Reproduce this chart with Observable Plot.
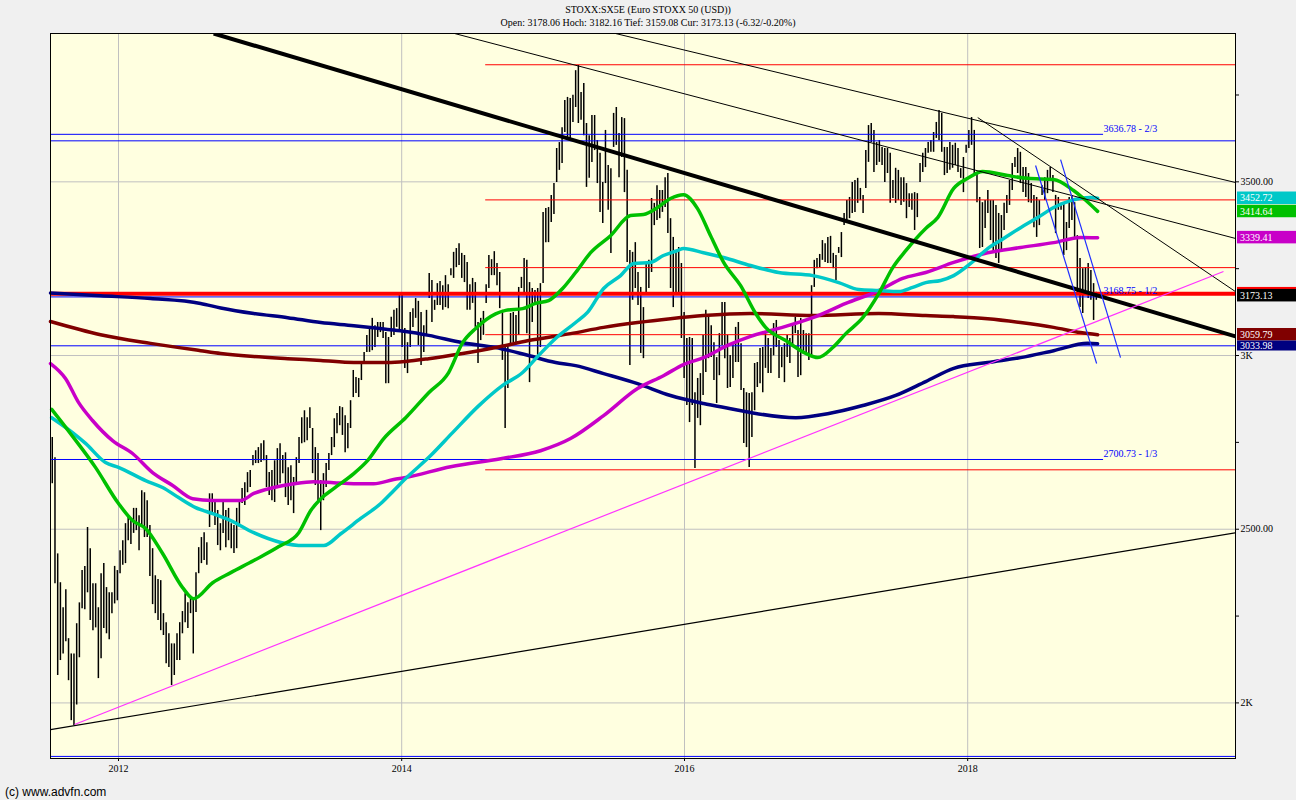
<!DOCTYPE html>
<html><head><meta charset="utf-8">
<script src="https://cdn.jsdelivr.net/npm/d3@7"></script>
<script src="https://cdn.jsdelivr.net/npm/@observablehq/plot@0.6"></script>
<style>
body{margin:0;background:#f0f0f0;width:1296px;height:800px;overflow:hidden;position:relative;font-family:"Liberation Serif","Times New Roman",serif;}
#hdr{position:absolute;left:0;top:0;width:1296px;text-align:center;font-size:10px;line-height:13px;color:#000;padding-top:3px}
#chart{position:absolute;left:0;top:32px}
#ftr{position:absolute;left:5px;top:785px;font-family:"Liberation Sans",Arial,sans-serif;font-size:12px;color:#000}
</style></head><body>
<div id="hdr"><div>STOXX:SX5E (Euro STOXX 50 (USD))</div><div>Open: 3178.06 Hoch: 3182.16 Tief: 3159.08 Cur: 3173.13 (-6.32/-0.20%)</div></div>
<div id="chart"></div>
<div id="ftr">(c) www.advfn.com</div>
<script>
// ---- weekly bars (from mid-July 2011), high / low ----
const weekHigh = [
2764,2706,2429,2346,2274,2326,2185,2141,2141,2228,2288,2381,2393,2505,2444,2343,2343,2274,2372,2401,2332,2317,2317,2393,2381,2438,2467,2516,2539,2528,2560,2560,2539,2611,2605,2582,2511,2444,2366,2355,2352,2257,2231,2199,2170,2170,2199,2231,2263,2314,2288,2303,2303,2375,2447,2476,2490,2461,2602,2602,2582,2554,
2516,2582,2554,2560,2516,2511,2560,2582,2617,2634,2663,2669,2712,2726,2735,2746,2755,2712,2663,2669,2697,2732,2746,2712,2720,2677,2683,2649,2706,2764,2821,2841,2821,2850,2790,2735,2718,2640,2660,2689,2718,2764,2818,2833,2853,2850,2827,2804,2870,2957,2937,2934,2977,3009,3058,3081,3107,3086,3095,3095,3095,3066,3052,3110,3130,3135,3173,
3178,3078,3037,3124,3135,3164,3156,3124,3086,3130,3236,3216,3159,3207,3213,3201,3230,3204,3250,3297,3308,3322,3294,3288,3268,3204,3222,3210,3095,3107,3127,3204,3288,3276,3299,3265,3239,3130,3029,3029,3121,3124,3115,3196,3225,3279,3274,3210,3193,3187,3193,3207,3412,3423,3426,3461,3495,3596,3613,3656,3734,3743,
3740,3749,3820,3835,3757,3783,3668,3633,3691,3691,3619,3582,3498,3648,3547,3538,3697,3714,3639,3685,3682,3533,3302,3297,3325,3239,3196,3138,3268,3274,3452,3438,3489,3475,3475,3512,3524,3394,3340,3297,3311,3265,3124,3049,3052,3049,2893,2934,2948,3058,3130,3115,3086,3037,2994,3063,3153,3153,3058,3000,3037,3081,3095,
3034,2905,2893,2891,2893,2977,2980,3020,3023,3063,3049,3020,3092,3101,3043,3023,3034,3058,3049,3092,3110,3072,3107,3072,3063,3063,3201,3274,3279,3291,3331,3322,3340,3343,3294,3288,3311,3354,3409,3446,3455,3498,3504,3510,3481,3461,3590,3662,3668,3648,3613,3619,3599,3596,3596,3582,3504,3539,3533,3512,3512,3495,3466,3466,3469,3466,
3553,3582,3596,3613,3619,3642,3671,3705,3697,3599,3599,3613,3605,3611,3596,3538,3570,3605,3648,3685,3648,3527,3455,3440,3446,3475,3446,3446,3432,3409,3403,3438,3461,3504,3553,3570,3596,3585,3541,3541,3524,3495,3461,3455,3446,3489,3512,3533,3541,3518,3461,3455,3438,3438,3383,3455,3461,3440,3345,3279,3250,3253,3265,3245,3207,3182];
const weekLow = [
2631,2343,2079,2122,2141,2176,2064,1949,1935,1994,2130,2271,2268,2317,2237,2208,2216,2070,2127,2214,2199,2182,2257,2285,2294,2372,2396,2401,2467,2456,2488,2496,2438,2508,2476,2476,2364,2283,2257,2237,2208,2194,2113,2102,2050,2079,2122,2122,2199,2231,2214,2257,2141,2260,2372,2401,2410,2396,2505,2545,2511,2453,
2438,2488,2447,2467,2444,2430,2444,2505,2574,2568,2605,2620,2683,2689,2689,2692,2697,2620,2597,2582,2577,2617,2631,2660,2591,2568,2582,2545,2626,2689,2746,2749,2755,2790,2660,2626,2582,2496,2582,2620,2669,2712,2735,2775,2798,2770,2720,2732,2790,2879,2891,2879,2928,2980,3009,3009,3014,3023,3052,3066,3049,2919,2919,3052,3058,3081,3072,
3023,2963,2948,3023,3081,3107,3029,2971,3009,3058,3164,3095,3130,3144,3144,3130,3138,3135,3230,3222,3253,3259,3222,3210,3130,3130,3150,3081,2977,3043,3058,3150,3193,3230,3230,3201,3135,2986,2790,2905,3029,3037,3037,3058,3193,3173,3063,2922,3095,3144,3000,3023,3207,3325,3325,3383,3406,3498,3533,3553,3642,3628,
3625,3671,3714,3668,3677,3633,3484,3510,3556,3590,3495,3412,3380,3495,3418,3294,3599,3605,3512,3570,3469,3268,2971,3159,3193,3144,3006,2991,3173,3193,3239,3374,3389,3394,3412,3426,3351,3193,3138,3173,3178,3049,2934,2856,2807,2856,2675,2819,2798,2885,2951,2991,2994,2928,2862,2942,3029,2991,2905,2908,2934,2980,2980,
2899,2747,2735,2678,2764,2841,2908,2919,2893,2963,2948,2948,2999,3023,2934,2965,2922,2994,2977,3023,3063,2937,2942,3006,3009,2986,2994,3196,3250,3253,3274,3268,3265,3265,3250,3216,3294,3282,3374,3380,3394,3409,3412,3438,3446,3409,3481,3556,3613,3527,3547,3556,3547,3498,3524,3438,3452,3438,3446,3432,3441,3394,3426,3418,3360,3397,
3498,3527,3541,3582,3585,3585,3625,3619,3585,3518,3524,3533,3539,3547,3527,3510,3469,3582,3596,3605,3518,3440,3308,3311,3366,3409,3331,3294,3279,3265,3297,3360,3409,3432,3475,3541,3524,3495,3469,3455,3440,3438,3368,3340,3374,3461,3446,3466,3504,3469,3351,3418,3418,3288,3302,3366,3389,3340,3178,3138,3121,3187,3164,3159,3101,3159];

// ---- moving averages (decimal year, value) ----
const maGreenYear = [2011.527,2011.661,2011.837,2012.000,2012.099,2012.191,2012.311,2012.452,2012.530,2012.664,2012.792,2012.954,2013.131,2013.272,2013.357,2013.428,2013.519,2013.661,2013.760,2013.873,2014.028,2014.191,2014.332,2014.431,2014.523,2014.664,2014.735,2014.855,2014.947,2015.039,2015.138,2015.230,2015.336,2015.477,2015.618,2015.710,2015.809,2015.901,2015.993,2016.092,2016.184,2016.276,2016.396,2016.502,2016.572,2016.714,2016.855,2016.940,2017.046,2017.138,2017.258,2017.371,2017.470,2017.562,2017.703,2017.788,2017.901,2018.000,2018.106,2018.283,2018.424,2018.608,2018.749,2018.820,2018.919];
const maGreenValue = [2845,2775,2678,2574,2525,2502,2430,2332,2300,2346,2375,2410,2450,2490,2554,2588,2617,2660,2698,2761,2821,2893,2951,3037,3078,3120,3130,3135,3150,3158,3193,3239,3296,3345,3403,3406,3426,3452,3463,3423,3345,3268,3201,3121,3081,3043,3006,2994,3023,3063,3109,3178,3253,3302,3366,3397,3481,3510,3530,3518,3510,3507,3475,3452,3415];
const maCyanYear = [2011.527,2011.675,2011.767,2011.908,2012.000,2012.191,2012.311,2012.424,2012.544,2012.664,2012.792,2012.954,2013.145,2013.307,2013.449,2013.569,2013.710,2013.852,2013.943,2014.028,2014.205,2014.360,2014.544,2014.714,2014.855,2014.968,2015.088,2015.230,2015.314,2015.428,2015.548,2015.640,2015.760,2015.851,2015.950,2015.993,2016.134,2016.276,2016.466,2016.664,2016.905,2017.088,2017.230,2017.371,2017.512,2017.611,2017.703,2017.809,2017.901,2018.021,2018.141,2018.254,2018.374,2018.495,2018.608,2018.728,2018.869,2018.919];
const maCyanValue = [2821,2778,2747,2692,2678,2640,2620,2591,2562,2545,2525,2490,2462,2453,2453,2487,2531,2574,2611,2646,2712,2778,2855,2914,2951,3000,3049,3095,3124,3193,3230,3265,3268,3288,3302,3308,3296,3282,3259,3239,3230,3210,3190,3187,3184,3196,3210,3216,3230,3265,3308,3337,3368,3397,3426,3446,3455,3453];
const maMagentaYear = [2011.519,2011.625,2011.717,2011.816,2011.958,2012.099,2012.240,2012.382,2012.523,2012.664,2012.862,2012.954,2013.095,2013.237,2013.378,2013.519,2013.661,2013.802,2013.943,2014.028,2014.346,2014.700,2014.982,2015.194,2015.428,2015.668,2015.851,2015.993,2016.134,2016.304,2016.466,2016.664,2016.905,2017.138,2017.371,2017.540,2017.703,2017.901,2018.141,2018.374,2018.608,2018.799,2018.919];
const maMagentaValue = [2977,2934,2865,2813,2755,2718,2663,2626,2588,2583,2583,2603,2620,2631,2637,2634,2631,2631,2643,2649,2680,2703,2726,2761,2827,2905,2942,2974,2994,3029,3055,3078,3109,3150,3187,3222,3239,3268,3296,3311,3325,3340,3339];
const maDarkRedYear = [2011.519,2011.873,2012.226,2012.579,2012.721,2012.954,2013.194,2013.428,2013.661,2013.901,2014.028,2014.191,2014.431,2014.664,2014.897,2015.194,2015.428,2015.668,2015.901,2016.134,2016.466,2016.905,2017.371,2017.703,2017.901,2018.141,2018.374,2018.608,2018.799,2018.919];
const maDarkRedValue = [3098,3060,3035,3014,3006,2997,2991,2986,2980,2980,2983,2991,3006,3023,3043,3063,3081,3095,3106,3115,3121,3115,3121,3115,3112,3106,3095,3081,3066,3060];
const maNavyYear = [2011.519,2011.873,2012.226,2012.579,2012.721,2012.954,2013.194,2013.428,2013.661,2013.901,2014.028,2014.191,2014.431,2014.664,2014.897,2015.088,2015.230,2015.428,2015.668,2015.901,2016.134,2016.325,2016.466,2016.785,2017.018,2017.258,2017.491,2017.703,2017.901,2018.141,2018.374,2018.608,2018.848,2018.919];
const maNavyValue = [3180,3172,3164,3150,3137,3121,3109,3095,3086,3075,3069,3058,3037,3023,3000,2980,2971,2948,2919,2885,2862,2847,2836,2821,2833,2856,2885,2925,2963,2980,2994,3014,3035,3034];

// ---- drawn trend lines: [startYear, startValue, endYear, endValue] ----
const trendThick  = [2012.671, 3927, 2019.894, 3055];
const trendA      = [2014.374, 3927, 2019.894, 3337];
const trendB      = [2015.512, 3927, 2019.894, 3498];
const trendC      = [2018.071, 3685, 2019.894, 3184];
const trendBottom = [2011.519, 1923, 2019.894, 2490];
const trendPink   = [2011.689, 1938, 2019.809, 3242];
const channelD    = [2018.480, 3547, 2018.912, 2977];
const channelE    = [2018.657, 3564, 2019.081, 2994];

// ---- horizontal levels ----
const redLevels = [3837, 3448, 3253, 3060, 2671];
const redStartYear = 2014.594;
const lastPriceLevel = 3178;
const blueLevels = [3618, 3028, 1846];
const fibLevels = [3636.78, 3168.75, 2700.73];
const fibLabels = ["3636.78 - 2/3", "3168.75 - 1/2", "2700.73 - 1/3"];
const fibEndYear = 2018.961;

const yTicks = [2000, 2500, 3000, 3500];
const yMinorTicks = [2250, 2750, 3250, 3750];
const xTickYears = [2012, 2014, 2016, 2018];

const boxValues = [3452.72, 3414.64, 3339.41, 3178.00, 3173.13, 3059.79, 3033.98];
const boxLabels = ["3452.72", "3414.64", "3339.41", "", "3173.13", "3059.79", "3033.98"];
const boxColors = ["#00c8c8", "#00c000", "#c800c8", "#ff0000", "#000000", "#800000", "#000080"];

// ---- helpers ----
function yd(y){const yr=Math.floor(y);const a=Date.UTC(yr,0,1),b=Date.UTC(yr+1,0,1);return new Date(a+(y-yr)*(b-a));}
const start = Date.UTC(2011,6,14);
const bars = weekHigh.map((h,i)=>({date:new Date(start+i*7*864e5), high:h, low:weekLow[i]}));
const ma = (ys, vs) => ys.map((y,i)=>({date:yd(y), value:vs[i]}));
const xEnd = yd(2019.894);
const trends = [
  {l:trendThick, c:"#000", w:4}, {l:trendA, c:"#000", w:1}, {l:trendB, c:"#000", w:1},
  {l:trendC, c:"#000", w:1}, {l:trendBottom, c:"#000", w:1.2}, {l:trendPink, c:"#ff33ff", w:1.2},
  {l:channelD, c:"#2030ff", w:1.2}, {l:channelE, c:"#2030ff", w:1.2}
];
const fmt = d => d % 1000 === 0 ? (d/1000)+"K" : d.toFixed(2);

const plot = Plot.plot({
  width: 1296, height: 746,
  marginLeft: 50, marginRight: 61, marginTop: 1, marginBottom: 20,
  x: {type: "utc", domain: [yd(2011.519), xEnd]},
  y: {domain: [1840, 3927]},
  style: {fontFamily: "Liberation Serif, Times New Roman, serif", fontSize: "10px", background: "transparent", color: "#000"},
  marks: [
    Plot.frame({fill: "#ffffe0"}),
    Plot.gridY(yTicks, {stroke: "#c0c0c0", strokeOpacity: 1}),
    Plot.gridX(xTickYears.map(y=>yd(y)), {stroke: "#c0c0c0", strokeOpacity: 1}),
    Plot.ruleX(bars, {x: "date", y1: "low", y2: "high", stroke: "#000", strokeWidth: 1.5}),
    Plot.ruleY(redLevels, {x1: yd(redStartYear), x2: xEnd, stroke: "#ff0000", strokeWidth: 1}),
    Plot.ruleY(blueLevels, {stroke: "#0000ff", strokeWidth: 1}),
    Plot.ruleY(fibLevels, {x1: yd(2011.519), x2: yd(fibEndYear), stroke: "#0000ff", strokeWidth: 1}),
    Plot.ruleY([lastPriceLevel], {stroke: "#ff0000", strokeWidth: 4}),
    Plot.line(ma(maNavyYear, maNavyValue), {x: "date", y: "value", stroke: "#000080", strokeWidth: 3.5, curve: "monotone-x"}),
    Plot.line(ma(maDarkRedYear, maDarkRedValue), {x: "date", y: "value", stroke: "#800000", strokeWidth: 3.5, curve: "monotone-x"}),
    Plot.line(ma(maMagentaYear, maMagentaValue), {x: "date", y: "value", stroke: "#c800c8", strokeWidth: 3.5, curve: "monotone-x"}),
    Plot.line(ma(maCyanYear, maCyanValue), {x: "date", y: "value", stroke: "#00c8c8", strokeWidth: 3.5, curve: "monotone-x"}),
    Plot.line(ma(maGreenYear, maGreenValue), {x: "date", y: "value", stroke: "#00c000", strokeWidth: 3.5, curve: "monotone-x"}),
    Plot.link(trends, {x1: d=>yd(d.l[0]), y1: d=>d.l[1], x2: d=>yd(d.l[2]), y2: d=>d.l[3], stroke: d=>d.c, strokeWidth: d=>d.w, clip: true}),
    Plot.text(fibLevels, {x: yd(fibEndYear), y: d=>d, text: (d,i)=>fibLabels[i], textAnchor: "start", dy: -6, fill: "#0000ff", fontSize: 10}),
    Plot.axisY(yTicks, {anchor: "right", tickSize: 3, tickPadding: 2, tickFormat: fmt, label: null}),
    Plot.axisY(yMinorTicks, {anchor: "right", tickSize: 3, tickFormat: () => "", label: null}),
    Plot.axisX(xTickYears.map(y=>yd(y)), {anchor: "bottom", tickSize: 3, tickPadding: 3, tickFormat: d3.utcFormat("%Y"), label: null}),
    Plot.frame({stroke: "#000", strokeWidth: 1})
  ]
});
document.getElementById("chart").appendChild(plot);

// value boxes at the right edge, positioned with the plot's y scale
const ys = plot.scale("y");
const g = d3.select(plot).append("g").attr("text-anchor", "start");
let prevBottom = -Infinity;
boxValues.forEach((v,i) => {
  const last = i === boxValues.length - 1;
  const h = last ? 10 : 12.5;
  let top = ys.apply(v) - 6.25;
  if (boxLabels[i] && top < prevBottom) top = prevBottom;
  g.append("rect").attr("x", 1237).attr("y", top).attr("width", 59).attr("height", h).attr("fill", boxColors[i]);
  if (boxLabels[i]) {
    g.append("text").attr("x", 1240).attr("y", top + (last ? 8.5 : 9.8)).attr("fill", "#fff")
      .attr("text-anchor", "start").attr("font-size", 10)
      .attr("font-family", "Liberation Serif, Times New Roman, serif").text(boxLabels[i]);
    prevBottom = top + h;
  } else prevBottom = top + 2;
});
</script>
</body></html>
